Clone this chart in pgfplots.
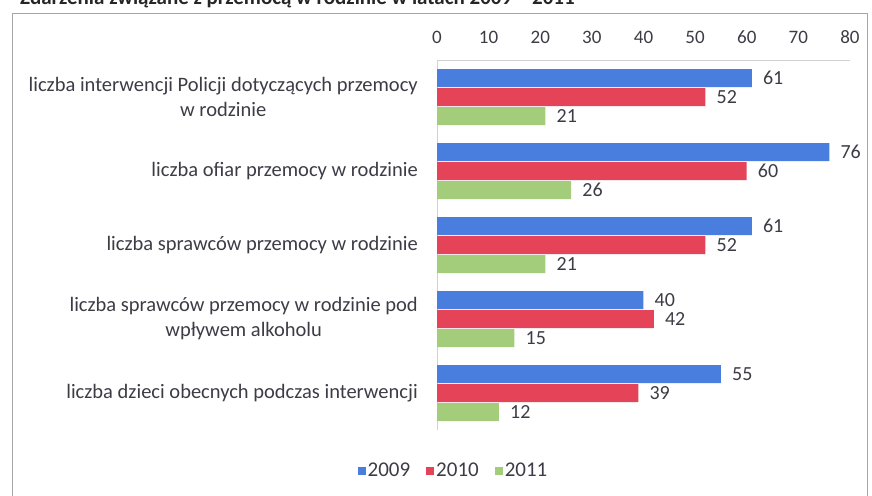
\documentclass[border=0pt]{standalone}
\usepackage{pgfplots}
\pgfplotsset{compat=1.18}
\usepackage{fontspec}
\setmainfont{Carlito}
\definecolor{c09}{RGB}{74,126,222}
\definecolor{c10}{RGB}{229,67,88}
\definecolor{c11}{RGB}{163,205,122}
\definecolor{txt}{RGB}{60,60,70}
\begin{document}
\begin{tikzpicture}[x=1pt,y=1pt]
\node[anchor=base west, font=\fontsize{21}{24}\selectfont\bfseries, text=black!85, inner sep=0pt] at (20,-5) {Zdarzenia związane z przemocą w rodzinie w latach 2009 – 2011};
\draw[gray!70, line width=0.8pt] (12,-13) rectangle (867,-510);
\begin{axis}[
  at={(437pt,-430pt)}, anchor=south west,
  scale only axis, width=413pt, height=370pt,
  xmin=0, xmax=80, ymin=-0.5, ymax=4.5,
  xbar, bar width=18pt,
  axis x line*=top, axis y line*=left,
  axis line style={draw=gray!35, -},
  /pgf/number format/assume math mode=true,
  xtick={0,10,...,80},
  xticklabel pos=upper,
  xticklabel style={font=\fontsize{19}{21}\selectfont, text=txt, yshift=13pt},
  ytick={0,1,2,3,4},
  yticklabels={{liczba dzieci obecnych podczas interwencji},{liczba sprawców przemocy w rodzinie pod\\wpływem alkoholu},{liczba sprawców przemocy w rodzinie},{liczba ofiar przemocy w rodzinie},{liczba interwencji Policji dotyczących przemocy\\w rodzinie}},
  yticklabel style={font=\fontsize{20.5}{25}\selectfont, text=txt, align=center, inner sep=2pt, xshift=-17pt},
  major tick length=0pt,
  nodes near coords,
  every node near coord/.append style={anchor=west, font=\fontsize{20}{22}\selectfont, text=txt, inner sep=2pt, xshift=9pt},
  legend style={at={(0.04,-0.11)}, anchor=center, legend columns=3, draw=none, fill=none,
    font=\fontsize{21}{24}\selectfont, text=txt, /tikz/every even column/.append style={column sep=14pt}},
  legend image code/.code={\fill[#1] (0pt,-4pt) rectangle (8pt,4pt);},
]
\addplot[fill=c09, draw=none, bar shift=19pt] coordinates {(61,4) (76,3) (61,2) (40,1) (55,0)};
\addplot[fill=c10, draw=none, bar shift=0pt] coordinates {(52,4) (60,3) (52,2) (42,1) (39,0)};
\addplot[fill=c11, draw=none, bar shift=-19pt] coordinates {(21,4) (26,3) (21,2) (15,1) (12,0)};
\legend{2009,2010,2011}
\end{axis}
\pgfresetboundingbox
\useasboundingbox (0,0) rectangle (872,-495);
\end{tikzpicture}
\end{document}
